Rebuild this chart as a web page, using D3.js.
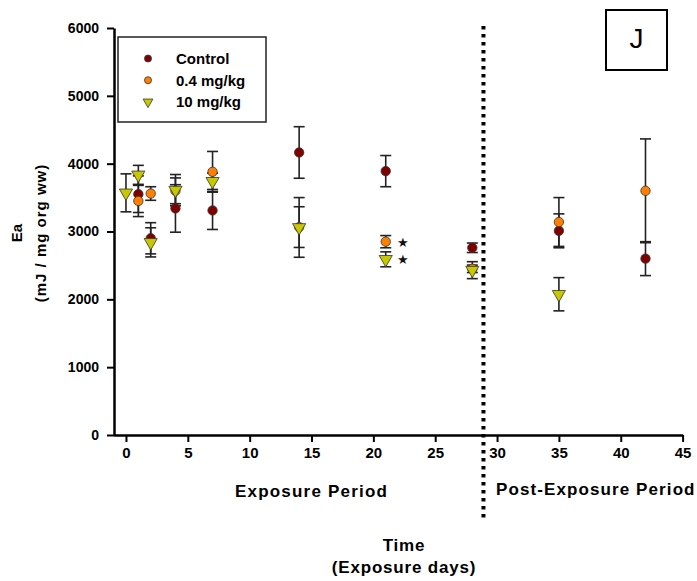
<!DOCTYPE html>
<html>
<head>
<meta charset="utf-8">
<script src="https://cdn.jsdelivr.net/npm/d3@7"></script>
<style>
  body { margin: 0; background: #fff; }
  svg text { font-family: "Liberation Sans", Arial, sans-serif; }
</style>
</head>
<body>
<svg id="chart"></svg>
<script>
// Groups and values: [day, mean, error]
const groups = ["Control", "0.4 mg/kg", "10 mg/kg"];
const control = [[1, 3550, 270], [2, 2900, 230], [4, 3340, 350], [7, 3310, 280], [14, 4165, 380],
                 [21, 3890, 230], [28, 2760, 70], [35, 3010, 250], [42, 2600, 250]];
const dose04 = [[1, 3450, 230], [2, 3560, 100], [4, 3600, 190], [7, 3880, 300], [14, 3065, 300],
                [21, 2850, 90], [28, 2450, 55], [35, 3140, 360], [42, 3600, 765]];
const dose10 = [[0, 3570, 280], [1, 3835, 140], [2, 2840, 215], [4, 3610, 230], [7, 3740, 120],
                [14, 3060, 440], [21, 2590, 110], [28, 2430, 125], [35, 2075, 245]];
const xTicks = [0, 5, 10, 15, 20, 25, 30, 35, 40, 45];
const yTicks = [0, 1000, 2000, 3000, 4000, 5000, 6000];
const starred = [[21, 2850], [21, 2590]]; // significance marks
const splitDay = 28.9; // end of exposure period

const width = 697, height = 581;
const colors = ["#800000", "#ff8000", "#c8c800"];
const series = [control, dose04, dose10];

const svg = d3.select("#chart").attr("width", width).attr("height", height);

const x = d3.scaleLinear().domain([-1, 45]).range([113.6, 682.6]);
const y = d3.scaleLinear().domain([0, 6000]).range([435, 28]);

// axes
const xAxis = svg.append("g")
    .attr("transform", "translate(0,435)")
    .call(d3.axisBottom(x).tickValues(xTicks).tickFormat(d3.format("d")).tickSize(7).tickSizeOuter(0));
xAxis.select(".domain").attr("stroke-width", 2.5);
xAxis.selectAll(".tick line").attr("stroke-width", 2);
xAxis.selectAll(".tick text")
    .attr("y", 12).attr("dy", "0.71em")
    .style("font-size", "15px").style("font-weight", "bold").attr("fill", "#000");

const yAxis = svg.append("g")
    .attr("transform", "translate(114,0)")
    .call(d3.axisLeft(y).tickValues(yTicks).tickFormat(d3.format("d")).tickSize(7).tickSizeOuter(0));
yAxis.select(".domain").attr("stroke-width", 2.5);
yAxis.selectAll(".tick line").attr("stroke-width", 2);
yAxis.selectAll(".tick text")
    .attr("x", -15)
    .style("font-size", "14px").style("font-weight", "bold").attr("fill", "#000");

// dotted separator
svg.append("line")
    .attr("x1", x(splitDay)).attr("x2", x(splitDay))
    .attr("y1", 26).attr("y2", 522)
    .attr("stroke", "#000").attr("stroke-width", 4)
    .attr("stroke-dasharray", "3.5 4.5");

// error bars
const cap = 5.5;
series.forEach((data, i) => {
  const g = svg.append("g").attr("stroke", "#222").attr("stroke-width", 1.6);
  data.forEach(([d, m, e]) => {
    const cx = x(d);
    g.append("line").attr("x1", cx).attr("x2", cx).attr("y1", y(m - e)).attr("y2", y(m + e));
    g.append("line").attr("x1", cx - cap).attr("x2", cx + cap).attr("y1", y(m + e)).attr("y2", y(m + e));
    g.append("line").attr("x1", cx - cap).attr("x2", cx + cap).attr("y1", y(m - e)).attr("y2", y(m - e));
  });
});

// markers
function marker(sel, i, scale) {
  if (i < 2) {
    sel.append("circle").attr("r", 4.7 * scale)
      .attr("fill", colors[i]).attr("stroke", "#333").attr("stroke-width", 0.8);
  } else {
    sel.append("path").attr("d", d3.symbol().type(d3.symbolTriangle).size(75 * scale * scale)())
      .attr("transform", "rotate(180)")
      .attr("fill", colors[i]).attr("stroke", "#333").attr("stroke-width", 0.8);
  }
}
series.forEach((data, i) => {
  data.forEach(([d, m]) => {
    const g = svg.append("g").attr("transform", `translate(${x(d)},${y(m)})`);
    marker(g, i, 1);
  });
});

// significance stars
svg.selectAll(".star").data(starred).enter().append("text")
    .attr("x", d => x(d[0]) + 17).attr("y", d => y(d[1]) + 5)
    .attr("text-anchor", "middle")
    .style("font-size", "13px").attr("fill", "#111")
    .text("★");

// legend
const legend = svg.append("g");
legend.append("rect").attr("x", 118).attr("y", 37).attr("width", 148).attr("height", 85)
    .attr("fill", "#fff").attr("stroke", "#222").attr("stroke-width", 1.5);
groups.forEach((name, i) => {
  const ly = 58.5 + i * 21.7;
  const g = legend.append("g").attr("transform", `translate(148,${ly})`);
  marker(g, i, 0.75);
  legend.append("text").attr("x", 176).attr("y", ly).attr("dy", "0.36em")
      .style("font-size", "15px").style("font-weight", "bold")
      .text(name);
});

// panel letter
svg.append("rect").attr("x", 606).attr("y", 10).attr("width", 61).attr("height", 60)
    .attr("fill", "#fff").attr("stroke", "#000").attr("stroke-width", 2);
svg.append("text").attr("x", 636.5).attr("y", 48).attr("text-anchor", "middle")
    .style("font-size", "28px").text("J");

// period labels
svg.append("text").attr("x", 235).attr("y", 497)
    .style("font-size", "17px").style("font-weight", "bold").style("letter-spacing", "1.2px")
    .text("Exposure Period");
svg.append("text").attr("x", 496).attr("y", 495)
    .style("font-size", "17px").style("font-weight", "bold").style("letter-spacing", "1.1px")
    .text("Post-Exposure Period");

// axis titles
svg.append("text").attr("x", 404).attr("y", 551).attr("text-anchor", "middle")
    .style("font-size", "17px").style("font-weight", "bold").style("letter-spacing", "0.8px")
    .text("Time");
svg.append("text").attr("x", 404).attr("y", 573).attr("text-anchor", "middle")
    .style("font-size", "17px").style("font-weight", "bold").style("letter-spacing", "0.8px")
    .text("(Exposure days)");

const yt = svg.append("text").attr("transform", "translate(22,233) rotate(-90)")
    .attr("text-anchor", "middle")
    .style("font-size", "15px").style("font-weight", "bold");
yt.append("tspan").attr("x", 0).attr("y", 0).text("Ea");
yt.append("tspan").attr("x", 0).attr("y", 24).style("letter-spacing", "1px").text("(mJ / mg org ww)");
</script>
</body>
</html>
